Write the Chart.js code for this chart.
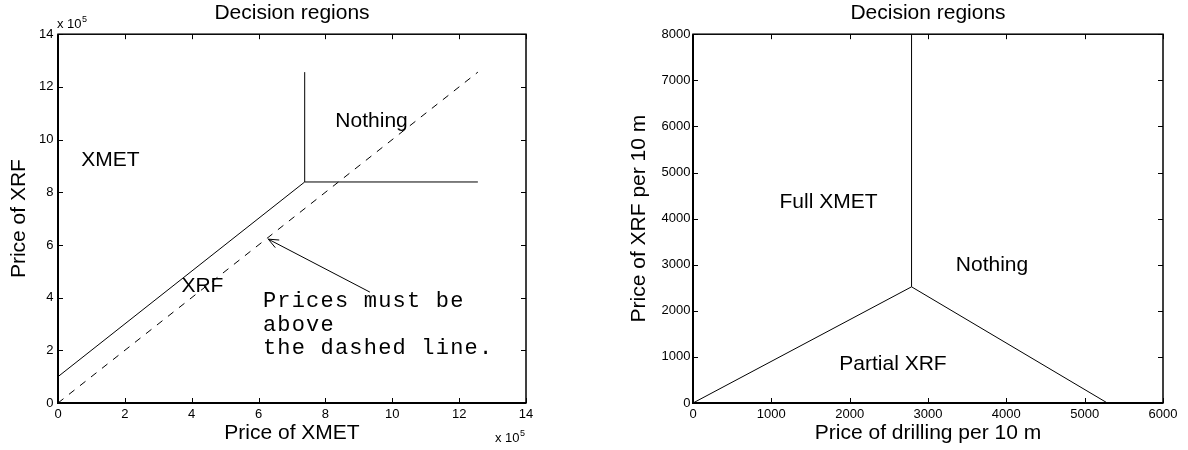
<!DOCTYPE html>
<html><head><meta charset="utf-8">
<script src="https://cdn.jsdelivr.net/npm/chart.js@4/dist/chart.umd.min.js"></script>
<style>
html,body{margin:0;padding:0;background:#fff;}
#wrap{position:relative;width:1188px;height:450px;overflow:hidden;}
.c{position:absolute;top:0;width:594px;height:450px;}
#c1{left:0}#c2{left:594px}
</style></head><body>
<div id="wrap"><div class="c" id="c1"><canvas id="left" width="594" height="450"></canvas></div><div class="c" id="c2"><canvas id="right" width="594" height="450"></canvas></div></div>
<script>
// ---------- Left panel data (prices in currency units; axis shown x 10^5) ----------
const leftXmetXrfBoundary   = [[0, 100000], [738000, 839000]];
const leftXmetNothingBound  = [[738000, 839000], [738000, 1256000]];
const leftXrfNothingBound   = [[738000, 839000], [1256000, 839000]];
const leftDashedLimit       = [[0, 0], [1256000, 1256000]];
const leftArrow             = [[933000, 421000], [629000, 622000]];
const leftTickValues        = [0, 2, 4, 6, 8, 10, 12, 14];   // x 10^5
const leftRegionLabels      = ['XMET', 'XRF', 'Nothing'];
const leftRegionLabelX      = [157000, 432000, 938000];
const leftRegionLabelY      = [899000, 421000, 1047000];
const leftNoteLines         = ['Prices must be', 'above', 'the dashed line.'];
const leftNoteX             = 613000;
const leftNoteY             = [363000, 274000, 185000];

// ---------- Right panel data ----------
const rightPartialFullBound    = [[0, 0], [2790, 2520]];
const rightFullNothingBound    = [[2790, 2520], [2790, 8000]];
const rightPartialNothingBound = [[2790, 2520], [5290, 0]];
const rightXTicks              = [0, 1000, 2000, 3000, 4000, 5000, 6000];
const rightYTicks              = [0, 1000, 2000, 3000, 4000, 5000, 6000, 7000, 8000];
const rightRegionLabels        = ['Full XMET', 'Nothing', 'Partial XRF'];
const rightRegionLabelX        = [1730, 3817, 2553];
const rightRegionLabelY        = [4228, 2862, 715];

const SANS = '"Liberation Sans", Arial, Helvetica, sans-serif';
const MONO = '"Liberation Mono", "Courier New", Courier, monospace';

const toPts = arr => arr.map(p => ({x: p[0], y: p[1]}));
const seg = (arr, dash) => ({data: toPts(arr), showLine: true, borderColor: '#000', borderWidth: 1,
  pointRadius: 0, borderDash: dash || [], fill: false, tension: 0});

const framePlugin = {
  id: 'frame',
  afterDatasetsDraw(chart, args, opts) {
    const {ctx, chartArea: a, scales} = chart;
    ctx.save();
    ctx.strokeStyle = '#000';
    ctx.lineWidth = 1;
    const tl = 5;
    const ln = (x1, y1, x2, y2) => { ctx.beginPath(); ctx.moveTo(x1, y1); ctx.lineTo(x2, y2); ctx.stroke(); };
    scales.x.ticks.forEach(t => {
      const px = Math.round(scales.x.getPixelForValue(t.value)) + 0.5;
      ln(px, a.bottom, px, a.bottom - tl); ln(px, a.top, px, a.top + tl);
    });
    scales.y.ticks.forEach(t => {
      const py = Math.round(scales.y.getPixelForValue(t.value)) + 0.5;
      ln(a.left, py, a.left + tl, py); ln(a.right, py, a.right - tl, py);
    });
    ctx.lineWidth = 1.5;
    ctx.strokeRect(a.left, a.top, a.right - a.left, a.bottom - a.top);
    ctx.lineWidth = 2;
    ln(a.left, a.top, a.left, a.bottom + 1);
    ln(a.left - 1, a.bottom, a.right, a.bottom);
    ctx.restore();
  }
};

const textPlugin = {
  id: 'texts',
  afterDatasetsDraw(chart, args, opts) {
    const {ctx, chartArea: a, scales} = chart;
    const X = v => scales.x.getPixelForValue(v), Y = v => scales.y.getPixelForValue(v);
    ctx.save();
    ctx.fillStyle = '#000';
    ctx.textBaseline = 'alphabetic';
    ctx.font = '21px ' + SANS;
    ctx.textAlign = 'center';
    opts.labels.forEach((t, i) => ctx.fillText(t, X(opts.lx[i]), Y(opts.ly[i])));
    if (opts.note) {
      ctx.font = '22px ' + MONO;
      ctx.textAlign = 'left';
      try { ctx.letterSpacing = '1.2px'; } catch (e) {}
      opts.note.forEach((t, i) => ctx.fillText(t, X(opts.nx), Y(opts.ny[i])));
      try { ctx.letterSpacing = '0px'; } catch (e) {}
    }
    if (opts.arrow) {
      const [tail, tip] = opts.arrow;
      const x1 = X(tail[0]), y1 = Y(tail[1]), x2 = X(tip[0]), y2 = Y(tip[1]);
      const ang = Math.atan2(y2 - y1, x2 - x1), L = 11, w = 0.4;
      ctx.strokeStyle = '#000'; ctx.lineWidth = 1;
      ctx.beginPath();
      ctx.moveTo(x2 - L * Math.cos(ang - w), y2 - L * Math.sin(ang - w));
      ctx.lineTo(x2, y2);
      ctx.lineTo(x2 - L * Math.cos(ang + w), y2 - L * Math.sin(ang + w));
      ctx.stroke();
    }
    if (opts.multiplier) {
      const drawMul = (x, y) => {
        ctx.textAlign = 'left';
        ctx.font = '13px ' + SANS;
        ctx.fillText('x 10', x, y);
        const w = ctx.measureText('x 10').width;
        ctx.font = '9px ' + SANS;
        ctx.fillText('5', x + w + 0.5, y - 6);
      };
      drawMul(a.left - 1, a.top - 6);
      drawMul(a.right - 31, a.bottom + 39);
    }
    ctx.restore();
  }
};

function makeOptions(cfg) {
  return {
    responsive: false,
    animation: false,
    devicePixelRatio: 1,
    layout: {padding: {left: 0, top: 0, right: cfg.padRight, bottom: 0}},
    plugins: {
      legend: {display: false},
      tooltip: {enabled: false},
      title: {display: true, text: 'Decision regions', color: '#000', fullSize: false,
        font: {family: SANS, size: 21, weight: 'normal'}, padding: {top: 1, bottom: 8}},
      texts: cfg.texts
    },
    scales: {
      x: {
        type: 'linear', position: 'bottom', min: cfg.xMin, max: cfg.xMax,
        afterFit: s => { s.height = 47; },
        afterBuildTicks: s => { s.ticks = cfg.xTicks.map(v => ({value: v})); },
        grid: {display: false, drawTicks: false},
        border: {display: false},
        ticks: {color: '#000', padding: 3.5, maxRotation: 0, autoSkip: false,
          font: {family: SANS, size: 13}, callback: cfg.xCb},
        title: {display: true, text: cfg.xTitle, color: '#000',
          font: {family: SANS, size: 21}, padding: {top: 0, bottom: 4}}
      },
      y: {
        type: 'linear', position: 'left', min: cfg.yMin, max: cfg.yMax,
        afterFit: s => { s.width = cfg.yWidth; },
        afterBuildTicks: s => { s.ticks = cfg.yTicks.map(v => ({value: v})); },
        grid: {display: false, drawTicks: false},
        border: {display: false},
        ticks: {color: '#000', padding: cfg.yPad, autoSkip: false,
          font: {family: SANS, size: 13}, callback: cfg.yCb},
        title: {display: true, text: cfg.yTitle, color: '#000',
          font: {family: SANS, size: 21}, padding: {top: cfg.yTitlePad, bottom: 0}}
      }
    }
  };
}

new Chart(document.getElementById('left'), {
  type: 'scatter',
  data: {datasets: [
    seg(leftXmetXrfBoundary), seg(leftXmetNothingBound), seg(leftXrfNothingBound),
    seg(leftDashedLimit, [7, 7]), seg(leftArrow)
  ]},
  options: makeOptions({
    padRight: 68, yWidth: 58, yPad: 4.5, yTitlePad: 7,
    xMin: 0, xMax: 1400000, yMin: 0, yMax: 1400000,
    xTicks: leftTickValues.map(v => v * 100000), yTicks: leftTickValues.map(v => v * 100000),
    xCb: v => String(v / 100000), yCb: v => String(v / 100000),
    xTitle: 'Price of XMET', yTitle: 'Price of XRF',
    texts: {labels: leftRegionLabels, lx: leftRegionLabelX, ly: leftRegionLabelY,
      note: leftNoteLines, nx: leftNoteX, ny: leftNoteY, arrow: leftArrow, multiplier: true}
  }),
  plugins: [framePlugin, textPlugin]
});

new Chart(document.getElementById('right'), {
  type: 'scatter',
  data: {datasets: [
    seg(rightPartialFullBound), seg(rightFullNothingBound), seg(rightPartialNothingBound)
  ]},
  options: makeOptions({
    padRight: 25, yWidth: 99, yPad: 2.5, yTitlePad: 33,
    xMin: 0, xMax: 6000, yMin: 0, yMax: 8000,
    xTicks: rightXTicks, yTicks: rightYTicks,
    xCb: v => String(v), yCb: v => String(v),
    xTitle: 'Price of drilling per 10 m', yTitle: 'Price of XRF per 10 m',
    texts: {labels: rightRegionLabels, lx: rightRegionLabelX, ly: rightRegionLabelY}
  }),
  plugins: [framePlugin, textPlugin]
});
</script>
</body></html>
